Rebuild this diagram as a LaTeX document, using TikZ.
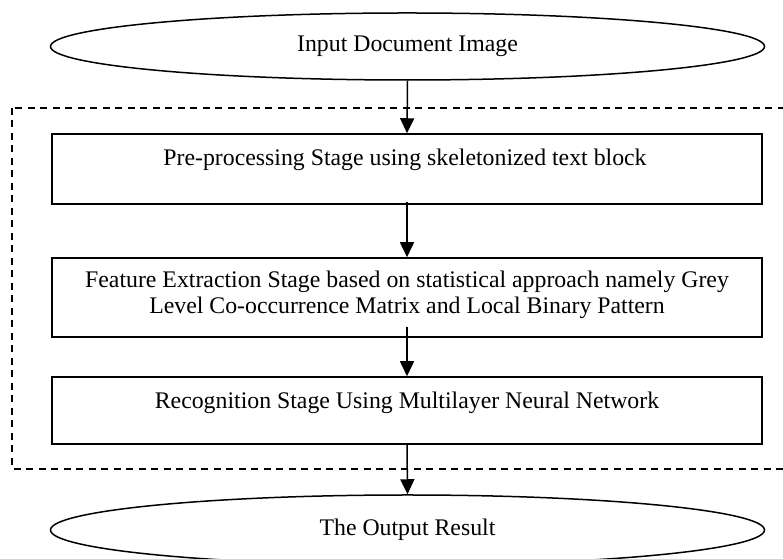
\documentclass[tikz,border=0pt]{standalone}
\usepackage{fontspec}
\setmainfont{Liberation Serif}
\usetikzlibrary{shapes.geometric,arrows.meta,calc}

\begin{document}
\begin{tikzpicture}[x=1bp,y=1bp,
  every node/.style={font=\fontsize{23.8bp}{25.5bp}\selectfont, inner sep=0pt},
  oval/.style={ellipse,draw,line width=1.5bp,minimum width=714bp,minimum height=67bp},
  stagebox/.style={rectangle,draw,line width=1.5bp,minimum width=710bp},
  arr/.style={line width=1.5bp,-{Triangle[length=15bp,width=14bp]}}]
\useasboundingbox (0,0) rectangle (783,559);

\draw[line width=1.3bp, dash pattern=on 7bp off 5.5bp] (12,451) rectangle (800,90);

\node[oval] (in) at (407.5,512.5) {Input Document Image};
\node[stagebox, minimum height=70bp] (b1) at (407,390) {};
\node[stagebox, minimum height=79bp] (b2) at (407,261.5) {};
\node[stagebox, minimum height=67bp] (b3) at (407,148.5) {};
\node[oval, minimum height=70bp] (out) at (407.5,29) {The Output Result};

\node (t1) at (405,399) {Pre-processing Stage using skeletonized text block};
\node[align=center] (t2) at (407,264) {Feature Extraction Stage based on statistical approach namely Grey\\Level Co-occurrence Matrix and Local Binary Pattern};
\node (t3) at (407,156) {Recognition Stage Using Multilayer Neural Network};

\draw[arr] (in.south) -- (b1.north);
\draw[arr] ($(b1.south)+(0,3)$) -- (b2.north);
\draw[arr] ($(b2.south)+(0,11)$) -- (b3.north);
\draw[arr] (b3.south) -- (out.north);
\end{tikzpicture}
\end{document}
